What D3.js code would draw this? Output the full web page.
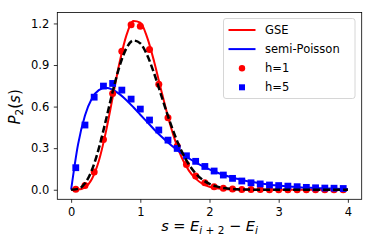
<!DOCTYPE html>
<html>
<head>
<meta charset="utf-8">
<script src="https://cdn.jsdelivr.net/npm/d3@7"></script>
<style>
  body { margin: 0; background: #fff; }
  text { font-family: "DejaVu Sans", sans-serif; }
</style>
</head>
<body>
<svg id="chart" width="374" height="249"></svg>
<script>

// curve grid (s from 0 to 4 by 0.1)
const sGrid = [0,0.1,0.2,0.3,0.4,0.5,0.6,0.7,0.8,0.9,1.0,1.1,1.2,1.3,1.4,1.5,1.6,1.7,1.8,1.9,2.0,
               2.1,2.2,2.3,2.4,2.5,2.6,2.7,2.8,2.9,3.0,3.1,3.2,3.3,3.4,3.5,3.6,3.7,3.8,3.9,4.0]

const gseCurve = [0,0.001,0.017,0.077,0.207,0.412,0.665,0.918,1.116,1.217,1.206,1.098,0.924,0.722,0.527,0.360,0.231,0.140,0.080,0.043,0.022,
                  0.010,0.005,0.002,0.001,0,0,0,0,0,0,0,0,0,0,0,0,0,0,0,0]

const semiPoissonCurve = [0,0.327,0.536,0.659,0.719,0.736,0.723,0.690,0.646,0.595,0.541,0.488,0.435,0.386,0.341,0.299,0.261,0.227,0.197,0.170,0.147,
                          0.126,0.108,0.092,0.079,0.067,0.057,0.049,0.041,0.035,0.030,0.025,0.021,0.018,0.015,0.013,0.011,0.009,0.008,0.006,0.005]

const dashedCurve = [0,0.006,0.046,0.142,0.298,0.497,0.707,0.892,1.022,1.077,1.056,0.970,0.839,0.685,0.531,0.392,0.275,0.184,0.118,0.072,0.042,
                     0.024,0.013,0.007,0.003,0.002,0.001,0,0,0,0,0,0,0,0,0,0,0,0,0,0]

// histogram bin centres
const sBins = [0.067,0.2,0.333,0.467,0.6,0.733,0.867,1.0,1.133,1.267,1.4,1.533,1.667,1.8,1.933,
               2.067,2.2,2.333,2.467,2.6,2.733,2.867,3.0,3.133,3.267,3.4,3.533,3.667,3.8,3.933]

const h1 = [0.004,0.03,0.128,0.362,0.695,1.0,1.19,1.18,1.012,0.762,0.52,0.315,0.183,0.10,0.05,
            0.022,0.010,0.005,0.002,0.001,0.001,0,0,0,0,0,0,0,0,0]

const h5 = [0.159,0.467,0.668,0.748,0.767,0.719,0.654,0.582,0.503,0.431,0.358,0.298,0.245,0.205,0.168,
            0.135,0.106,0.082,0.063,0.050,0.042,0.034,0.030,0.026,0.022,0.017,0.014,0.012,0.011,0.009]

const xTicks = [0,1,2,3,4]
const yTicks = [0,0.3,0.6,0.9,1.2]

const legendLabels = ["GSE","semi-Poisson","h=1","h=5"]


const svg = d3.select("#chart")

const plotLeft = 57.3, plotRight = 361.7, plotTop = 12.5, plotBottom = 199.3

const x = d3.scaleLinear()
            .domain([-0.2, 4.2])
            .range([plotLeft, plotRight])

const y = d3.scaleLinear()
            .domain([-0.069, 1.279])
            .range([plotBottom, plotTop])

// axes
svg.append("g")
   .attr("transform", "translate(0," + plotBottom + ")")
   .call( d3.axisBottom(x)
            .tickValues(xTicks)
            .tickFormat(d3.format("d"))
            .tickSizeOuter(0)
            .tickSize(3.5)
            .tickPadding(5) )

svg.append("g")
   .attr("transform", "translate(" + plotLeft + ",0)")
   .call( d3.axisLeft(y)
            .tickValues(yTicks)
            .tickFormat(d3.format(".1f"))
            .tickSizeOuter(0)
            .tickSize(3.5)
            .tickPadding(4.5) )

svg.selectAll(".domain").remove()
svg.selectAll(".tick line").attr("stroke", "#000").attr("stroke-width", 0.8)
svg.selectAll(".tick text")
   .attr("font-family", "DejaVu Sans")
   .attr("font-size", 11.5)
   .attr("fill", "#000")

// curves
const line = d3.line()
               .x( (d, i) => x(sGrid[i]) )
               .y( d => y(d) )
               .curve(d3.curveMonotoneX)

svg.append("path")
   .datum(gseCurve)
   .attr("d", line)
   .attr("fill", "none")
   .attr("stroke", "#ff0000")
   .attr("stroke-width", 2)

svg.append("path")
   .datum(semiPoissonCurve)
   .attr("d", line)
   .attr("fill", "none")
   .attr("stroke", "#0000ff")
   .attr("stroke-width", 2)

// data points
svg.append("g")
   .selectAll("circle")
   .data(h1)
   .enter()
   .append("circle")
   .attr("cx", (d, i) => x(sBins[i]))
   .attr("cy", d => y(d))
   .attr("r", 3.5)
   .attr("fill", "#ff0000")

const sq = 6.8
svg.append("g")
   .selectAll("rect")
   .data(h5)
   .enter()
   .append("rect")
   .attr("x", (d, i) => x(sBins[i]) - sq / 2)
   .attr("y", d => y(d) - sq / 2)
   .attr("width", sq)
   .attr("height", sq)
   .attr("fill", "#0000ff")

svg.append("path")
   .datum(dashedCurve)
   .attr("d", line)
   .attr("fill", "none")
   .attr("stroke", "#000")
   .attr("stroke-width", 2.5)
   .attr("stroke-dasharray", "7,3")

// frame
svg.append("rect")
   .attr("x", plotLeft)
   .attr("y", plotTop)
   .attr("width", plotRight - plotLeft)
   .attr("height", plotBottom - plotTop)
   .attr("fill", "none")
   .attr("stroke", "#000")
   .attr("stroke-width", 0.8)

// axis labels
const yLabel = svg.append("text")
                  .attr("transform", "translate(20," + ((plotTop + plotBottom) / 2 + 1) + ") rotate(-90)")
                  .attr("text-anchor", "middle")
                  .attr("font-size", 15)
                  .attr("fill", "#000")
yLabel.append("tspan").attr("font-style", "italic").text("P")
yLabel.append("tspan").attr("font-size", 10.5).attr("dy", 3).text("2")
yLabel.append("tspan").attr("dy", -3).text("(")
yLabel.append("tspan").attr("font-style", "italic").text("s")
yLabel.append("tspan").text(")")

const xLabel = svg.append("text")
                  .attr("x", (plotLeft + plotRight) / 2)
                  .attr("y", 231)
                  .attr("text-anchor", "middle")
                  .attr("font-size", 14.5)
                  .attr("fill", "#000")
xLabel.append("tspan").attr("font-style", "italic").text("s")
xLabel.append("tspan").text(" = ")
xLabel.append("tspan").attr("font-style", "italic").text("E")
xLabel.append("tspan").attr("font-size", 10.5).attr("dy", 3).attr("font-style", "italic").text("i")
xLabel.append("tspan").attr("font-size", 10.5).text(" + 2")
xLabel.append("tspan").attr("dy", -3).text(" − ")
xLabel.append("tspan").attr("font-style", "italic").text("E")
xLabel.append("tspan").attr("font-size", 10.5).attr("dy", 3).attr("font-style", "italic").text("i")

// legend
const legend = svg.append("g")

legend.append("rect")
      .attr("x", 223.5)
      .attr("y", 18.5)
      .attr("width", 131.5)
      .attr("height", 80)
      .attr("rx", 2.5)
      .attr("fill", "#fff")
      .attr("fill-opacity", 0.8)
      .attr("stroke", "#cccccc")
      .attr("stroke-width", 0.8)

const legendY = d3.scalePoint()
                  .domain(legendLabels)
                  .range([30, 87.3])

legend.append("line")
      .attr("x1", 228.5).attr("x2", 255.5)
      .attr("y1", legendY("GSE")).attr("y2", legendY("GSE"))
      .attr("stroke", "#ff0000").attr("stroke-width", 2)

legend.append("line")
      .attr("x1", 228.5).attr("x2", 255.5)
      .attr("y1", legendY("semi-Poisson")).attr("y2", legendY("semi-Poisson"))
      .attr("stroke", "#0000ff").attr("stroke-width", 2)

legend.append("circle")
      .attr("cx", 242).attr("cy", legendY("h=1"))
      .attr("r", 3.2)
      .attr("fill", "#ff0000")

legend.append("rect")
      .attr("x", 242 - 3).attr("y", legendY("h=5") - 3)
      .attr("width", 6).attr("height", 6)
      .attr("fill", "#0000ff")

legend.selectAll(".legendText")
      .data(legendLabels)
      .enter()
      .append("text")
      .attr("class", "legendText")
      .attr("x", 265)
      .attr("y", d => legendY(d))
      .attr("dy", "0.36em")
      .attr("font-size", 11.5)
      .attr("fill", "#000")
      .text(d => d)

</script>
</body>
</html>
